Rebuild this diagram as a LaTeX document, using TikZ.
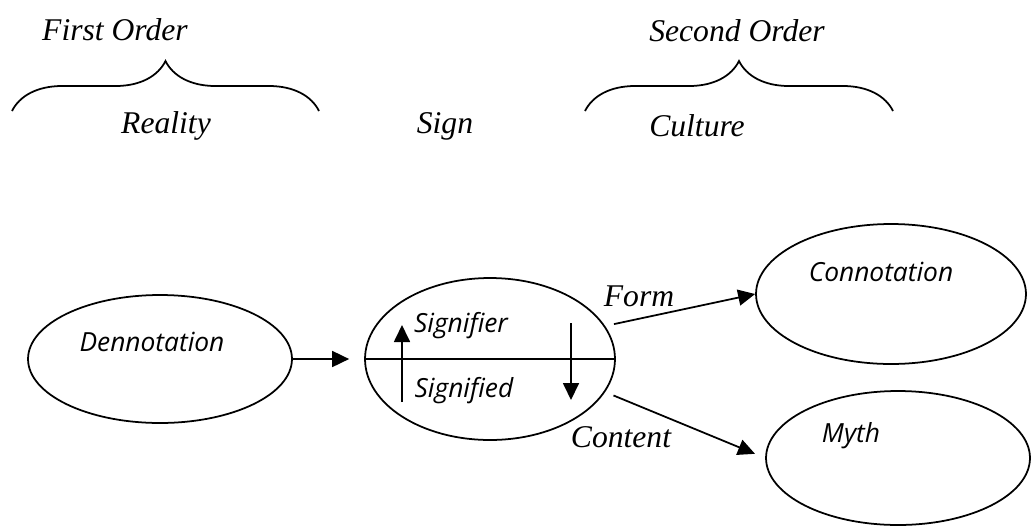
\documentclass[tikz,border=0pt]{standalone}
\usepackage{fontspec}
\setmainfont{Liberation Serif}
\newfontfamily\ovalfont{Open Sans}
\usetikzlibrary{arrows.meta,shapes.geometric,decorations.pathreplacing}

\begin{document}
\begin{tikzpicture}[x=0.02cm, y=-0.02cm, line width=1pt, -{Triangle[length=3.4mm,width=3.2mm]},
	order/.style={font=\fontsize{18}{20}\selectfont\itshape},
	inner/.style={font=\ovalfont\fontsize{15}{18}\selectfont\itshape},
	oval/.style={draw, ellipse, inner sep=0pt}]
	\useasboundingbox (0,0) rectangle (1031,528);
	\node[order] (first) at (115,30) {First Order};
	\node[order] (second) at (737,31) {Second Order};
	\draw[-,decorate,decoration={brace,amplitude=1cm}] (12,111) -- (319,111);
	\draw[-,decorate,decoration={brace,amplitude=1cm}] (585,111) -- (893,111);
	\node[order] (reality) at (166,126) {Reality};
	\node[order] (signword) at (445,126) {Sign};
	\node[order] (culture) at (697,126) {Culture};
	\node[oval, minimum width=5.28cm, minimum height=2.56cm] (denn) at (160,359) {};
	\node[oval, minimum width=5cm, minimum height=3.24cm] (sign) at (490,359) {};
	\node[oval, minimum width=5.4cm, minimum height=2.8cm] (conn) at (891,294) {};
	\node[oval, minimum width=5.28cm, minimum height=2.68cm] (myth) at (898,458) {};
	\node[inner] (denntext) at (152,342) {Dennotation};
	\node[inner] (signifier) at (461,326) {Signifier};
	\node[inner] (signified) at (464,391) {Signified};
	\node[inner] (conntext) at (881,272) {Connotation};
	\node[inner] (mythtext) at (851,436) {Myth};
	\node[order] (form) at (639,296) {Form};
	\node[order] (content) at (621,437) {Content};
	\coordinate (upfoot) at (402,402);
	\coordinate (uphead) at (402,325);
	\coordinate (downfoot) at (571,323);
	\coordinate (downhead) at (571,400);
	\draw[-] (sign.west) -- (sign.east);
	\draw (upfoot) -- (uphead);
	\draw (downfoot) -- (downhead);
	\draw[shorten >=0.3cm] (denn.east) -- (sign.west);
	\draw[shorten <=0.18cm] (sign.16) -- (conn.west);
	\draw[shorten <=0.18cm, shorten >=0.22cm] (sign.-16) -- (myth.west);
\end{tikzpicture}
\end{document}
